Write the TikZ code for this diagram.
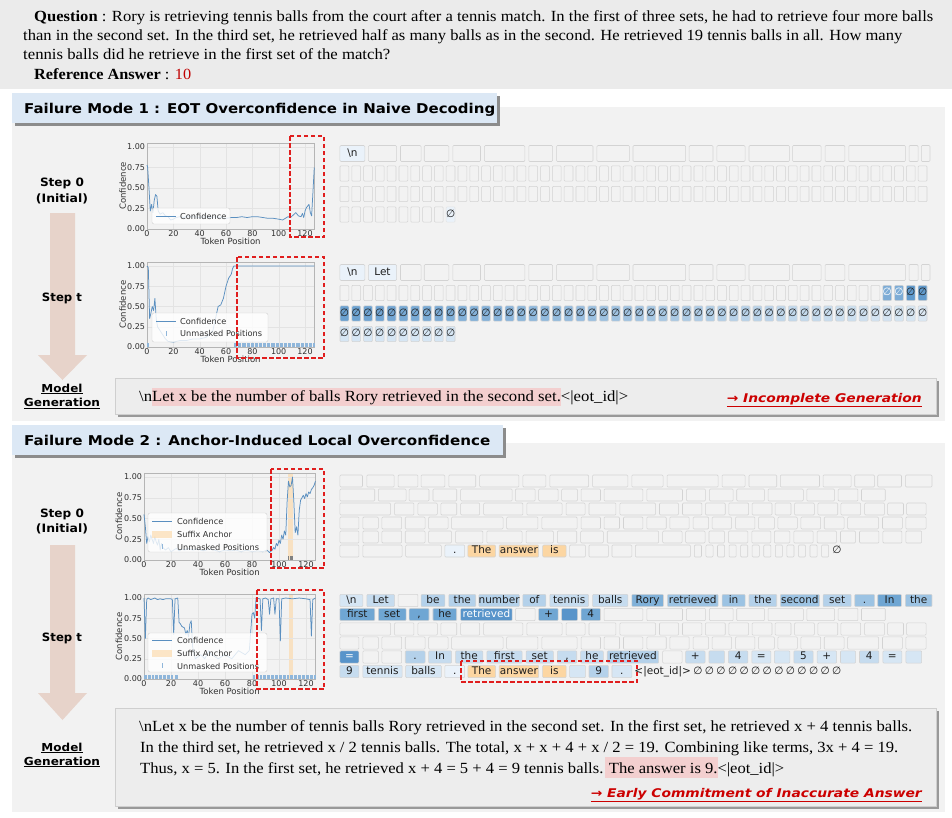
\documentclass[tikz,border=0pt]{standalone}
\usepackage{fontspec}
\usepackage{graphicx}
\setmainfont{Liberation Serif}
\newfontfamily\dv{DejaVu Sans}
\usetikzlibrary{calc}
\definecolor{qbg}{HTML}{EBEBEB}
\definecolor{pbg}{HTML}{F2F2F2}
\definecolor{hdr}{HTML}{DCE8F5}
\definecolor{arr}{HTML}{E7D3CA}
\definecolor{dashred}{HTML}{E01E1E}
\definecolor{lblred}{HTML}{CC0000}
\definecolor{ansred}{HTML}{C00000}
\definecolor{pinkh}{HTML}{F3CFCF}
\definecolor{cellb}{HTML}{D3D3D3}
\definecolor{b0}{HTML}{EAF2FA}
\definecolor{b1}{HTML}{D6E6F4}
\definecolor{b2}{HTML}{C6DCEF}
\definecolor{b3}{HTML}{B4D1EA}
\definecolor{b4}{HTML}{9CC3E3}
\definecolor{b5}{HTML}{80B1D9}
\definecolor{b6}{HTML}{6FA6D3}
\definecolor{b7}{HTML}{5894CA}
\definecolor{tb}{HTML}{4A8CC6}
\definecolor{orng}{HTML}{FCD6A2}
\definecolor{tokt}{HTML}{1E1E1E}
\definecolor{gridc}{HTML}{E3E3E3}
\definecolor{spinec}{HTML}{B5B5B5}
\definecolor{tickc}{HTML}{303030}
\definecolor{linec}{HTML}{5A8FC0}
\definecolor{legc}{HTML}{D0D0D0}
\definecolor{unmc}{HTML}{8FB6DA}
\definecolor{genbg}{HTML}{EDEDED}
\definecolor{genb}{HTML}{CFCFCF}
\newcommand\comma{,}
\newcommand\fitw[2]{\resizebox{#1}{\height}{#2}}
\newcommand\tokrow[4]{%
  \foreach \xa/\xb/\cc/\tx [count=\k] in {#3}{%
    \draw[cell,fill=\cc] ({330+\xa/2.525},{#1-#2}) rectangle ({330+\xb/2.525},{#1+#2});
    \ifx\tx\empty\else
      \node[tok] (#4-\k) at ({330+(\xa+\xb)/5.05},#1) {\tx};
    \fi
  }}
\newcommand\axesdecor{%
  \foreach \g in {0,20,40,60,80,100,120} {\draw[gridl] (\g,0) -- (\g,1.05);}
  \foreach \g in {0.25,0.5,0.75,1} {\draw[gridl] (0,\g) -- (127,\g);}
  \draw[spine] (0,0) rectangle (127,1.05);
  \foreach \g/\l in {0/0.00,0.25/0.25,0.5/0.50,0.75/0.75,1/1.00} {\node[ticklbl,anchor=east] at (-1.0,\g) {\l};}
  \foreach \g in {0,20,40,60,80,100,120} {\node[ticklbl,anchor=north] at (\g,-0.01) {\g};}
  \node[axlbl,rotate=90] at (-18.5,0.525) {Confidence};
  \node[axlbl] at (63.5,-0.147) {Token Position};
}
\tikzset{
  cell/.style={draw=cellb,line width=0.55pt,rounded corners=1pt},
  tok/.style={font=\dv\fontsize{10.5}{11}\selectfont,inner sep=0pt,text=tokt,text height=7.8pt,text depth=2.2pt},
  gridl/.style={draw=gridc,line width=0.35pt},
  spine/.style={draw=spinec,line width=0.6pt},
  ticklbl/.style={font=\dv\fontsize{8}{9}\selectfont,inner sep=0.5pt,text=tickc},
  axlbl/.style={font=\dv\fontsize{8.5}{9}\selectfont,inner sep=0pt,text=tickc},
  dl/.style={draw=linec,line width=0.75pt,line join=round},
  unm/.style={draw=unmc,line width=0.6pt},
  reddash/.style={draw=dashred,line width=1.5pt,dash pattern=on 4.5pt off 2.5pt},
  legbox/.style={fill=white,fill opacity=0.8,draw=legc,line width=0.4pt,rounded corners=2pt},
  legtxt/.style={font=\dv\fontsize{8.2}{9}\selectfont,inner sep=0pt,anchor=west,text=tickc},
  steplbl/.style={font=\dv\bfseries\fontsize{11.5}{12}\selectfont,inner sep=0pt},
  mglbl/.style={font=\dv\bfseries\fontsize{11}{12}\selectfont,inner sep=0pt},
  qtxt/.style={anchor=base west,inner sep=0pt,font=\fontsize{15.5}{18}\selectfont},
  hdrtxt/.style={anchor=base west,inner sep=0pt,font=\dv\bfseries\fontsize{13.5}{15}\selectfont},
  redlbl/.style={anchor=base east,inner sep=0pt,text=lblred,font=\dv\bfseries\itshape\fontsize{12}{14}\selectfont},
  emp/.style={font=\dv\fontsize{10.5}{11}\selectfont,inner sep=0pt,text=tokt,text height=7.8pt,text depth=2.2pt},
}
\begin{document}
\begin{tikzpicture}[x=1pt,y=-1pt]
\useasboundingbox (0,0) rectangle (952,817);
\fill[white] (0,0) rectangle (952,817);
% ---------------- question ----------------
\fill[qbg] (0,0) rectangle (952,89);
\node[qtxt] (q1) at (34,21.5) {\fitw{899pt}{\textbf{Question} : Rory is retrieving tennis balls from the court after a tennis match. In the first of three sets, he had to retrieve four more balls}};
\node[qtxt] (q2) at (23,40.5) {\fitw{879pt}{than in the second set. In the third set, he retrieved half as many balls as in the second. He retrieved 19 tennis balls in all. How many}};
\node[qtxt] (q3) at (23,59.5) {\fitw{367pt}{tennis balls did he retrieve in the first set of the match?}};
\node[qtxt] (q4) at (34,79.5) {\fitw{157pt}{\textbf{Reference Answer} : \textcolor{ansred}{10}}};
% ---------------- panels ----------------
\fill[pbg] (12,107) rectangle (945,421);
\fill[pbg] (12,443) rectangle (945,812);
\fill[black!45] (14.5,95.5) rectangle (499.5,125.5);
\fill[hdr] (12,93) rectangle (497,123);
\node[hdrtxt] (h1) at (24,113) {\fitw{471pt}{Failure Mode 1 : EOT Overconfidence in Naive Decoding}};
\fill[black!45] (14.5,427.5) rectangle (505.5,457.5);
\fill[hdr] (12,425) rectangle (503,455);
\node[hdrtxt] (h2) at (24,445) {\fitw{466pt}{Failure Mode 2 : Anchor-Induced Local Overconfidence}};
% ---------------- arrows & step labels ----------------
\fill[arr] (50,213) -- (75,213) -- (75,355) -- (87,355) -- (62.5,380) -- (38,355) -- (50,355) -- cycle;
\fill[arr] (50,545) -- (75,545) -- (75,693) -- (87,693) -- (62.5,720) -- (38,693) -- (50,693) -- cycle;
\node[steplbl] (s1a) at (62,183.5) {\fitw{44pt}{Step 0}};
\node[steplbl] (s1b) at (62,198.5) {\fitw{52pt}{(Initial)}};
\node[steplbl] (s1t) at (62,298) {\fitw{40pt}{Step t}};
\node[mglbl] (m1a) at (62,389) {\fitw{41pt}{\underline{Model}}};
\node[mglbl] (m1b) at (62,403.5) {\fitw{76pt}{\underline{Generation}}};
\node[steplbl] (s2a) at (62,514) {\fitw{44pt}{Step 0}};
\node[steplbl] (s2b) at (62,528.5) {\fitw{52pt}{(Initial)}};
\node[steplbl] (s2t) at (62,638) {\fitw{40pt}{Step t}};
\node[mglbl] (m2a) at (62,748) {\fitw{41pt}{\underline{Model}}};
\node[mglbl] (m2b) at (62,762) {\fitw{76pt}{\underline{Generation}}};
% ---------------- plot 1 : FM1 step 0 ----------------
\begin{scope}[shift={(147,229)},x=1.317pt,y=82pt]
\axesdecor
\draw[dl] plot coordinates {(0,0.78) (0.5,0.75) (1.5,0.5) (2.5,0.22) (3.5,0.3) (4.5,0.2) (5.5,0.35) (6.5,0.42) (7.5,0.4) (8.5,0.22) (10,0.18) (12,0.2) (14,0.16) (16,0.15) (18,0.11) (20,0.12) (22,0.14) (25,0.15) (28,0.14) (30,0.16) (33,0.15) (36,0.15) (40,0.14) (44,0.15) (48,0.14) (52,0.15) (56,0.14) (60,0.13) (64,0.14) (68,0.14) (72,0.15) (76,0.14) (80,0.15) (84,0.15) (88,0.14) (92,0.13) (96,0.13) (100,0.12) (103,0.11) (105,0.13) (107,0.15) (109,0.14) (111,0.17) (113,0.2) (115,0.16) (117,0.15) (118,0.19) (119,0.14) (120,0.22) (121,0.26) (122,0.28) (123,0.3) (124,0.2) (125,0.16) (126,0.45) (127,0.75)};
\end{scope}
\draw[legbox] (152,208) rectangle (230,224);
\draw[dl] (156,216) -- (176,216);
\node[legtxt] (l1a) at (180,216) {Confidence};
\draw[reddash] (290,136) rectangle (324,237);
% ---------------- plot 2 : FM1 step t ----------------
\begin{scope}[shift={(147,347)},x=1.317pt,y=81pt]
\axesdecor
\foreach \u in {0,1,66,67,...,127} {\draw[unm] (\u,0) -- (\u,0.045);}
\draw[dl] plot coordinates {(0,1.0) (1,0.98) (2,0.35) (3,0.42) (4,0.5) (5,0.45) (6,0.6) (7,0.35) (8,0.25) (10,0.2) (12,0.15) (14,0.1) (16,0.07) (20,0.06) (25,0.08) (30,0.08) (35,0.1) (40,0.1) (45,0.12) (50,0.2) (52,0.35) (54,0.5) (56,0.52) (58,0.6) (60,0.75) (62,0.85) (64,0.9) (65,0.97) (66,1.0) (127,1.0)};
\end{scope}
\draw[legbox] (152,313) rectangle (268,342);
\draw[dl] (156,321) -- (176,321);
\draw[unm] (166,331) -- (166,336);
\node[legtxt] (l2a) at (180,321) {Confidence};
\node[legtxt] (l2b) at (180,333.5) {Unmasked Positions};
\draw[reddash] (237,257) rectangle (324,358);
% ---------------- plot 3 : FM2 step 0 ----------------
\begin{scope}[shift={(144,560)},x=1.35pt,y=83pt]
\fill[orng,opacity=0.6] (107,0) rectangle (110.5,1.05);
\axesdecor
\foreach \u in {107,108,109,110} {\draw[draw=gray,line width=0.6pt] (\u,0) -- (\u,0.045);}
\draw[dl] plot coordinates {(0,0.55) (1,0.4) (2,0.2) (3,0.28) (4,0.22) (5,0.3) (6,0.25) (7,0.2) (8,0.28) (9,0.22) (10,0.18) (11,0.25) (12,0.12) (13,0.2) (14,0.15) (16,0.12) (18,0.15) (20,0.1) (22,0.12) (24,0.14) (26,0.11) (28,0.13) (30,0.12) (33,0.14) (36,0.12) (40,0.13) (44,0.11) (48,0.13) (52,0.12) (56,0.1) (60,0.12) (64,0.11) (68,0.12) (72,0.1) (76,0.12) (80,0.1) (84,0.11) (88,0.1) (91,0.12) (93,0.09) (95,0.12) (96,0.15) (97,0.13) (98,0.2) (99,0.17) (100,0.24) (101,0.2) (102,0.3) (103,0.25) (104,0.35) (105,0.3) (106,0.7) (107,0.95) (108,0.88) (109,0.9) (110,1.0) (111,0.7) (112,0.33) (113,0.4) (114,0.3) (115,0.6) (116,0.72) (117,0.75) (118,0.78) (119,0.74) (120,0.8) (121,0.76) (122,0.82) (123,0.8) (124,0.85) (125,0.87) (126,0.9) (127,0.95)};
\end{scope}
\draw[legbox] (148,513) rectangle (267,552);
\draw[dl] (152,521) -- (172,521);
\fill[orng,opacity=0.6] (152,530.5) rectangle (172,537.5);
\draw[unm] (162,544) -- (162,549);
\node[legtxt] (l3a) at (177,521) {Confidence};
\node[legtxt] (l3b) at (177,534) {Suffix Anchor};
\node[legtxt] (l3c) at (177,547) {Unmasked Positions};
\draw[reddash] (271,469) rectangle (324,568);
% ---------------- plot 4 : FM2 step t ----------------
\begin{scope}[shift={(144,679)},x=1.35pt,y=81pt]
\fill[orng,opacity=0.6] (107.4,0) rectangle (110.5,1.05);
\axesdecor
\foreach \u in {0,1,...,21,23,24,25,81,82,...,127} {\draw[unm] (\u,0) -- (\u,0.045);}
\draw[dl] plot coordinates {(0,1.0) (1,0.5) (2,0.98) (3,1.0) (5,0.98) (8,1.0) (10,0.98) (12,0.99) (14,0.98) (16,0.99) (20,0.99) (21,0.98) (22,0.55) (23,0.99) (25,1.0) (26,0.7) (27,0.68) (28,0.65) (30,0.63) (31,0.55) (32,0.6) (33,0.52) (34,0.68) (35,0.72) (36,0.4) (38,0.25) (42,0.3) (45,0.25) (48,0.35) (50,0.3) (55,0.25) (60,0.3) (65,0.25) (70,0.35) (75,0.3) (78,0.35) (80,0.8) (81,0.82) (82,0.75) (83,1.0) (86,0.99) (87,0.6) (88,0.99) (90,1.0) (92,0.98) (93,0.8) (94,0.99) (96,1.0) (97,0.8) (98,0.99) (100,0.99) (101,0.47) (102,0.99) (105,1.0) (110,0.99) (115,1.0) (120,0.99) (123,0.98) (124,0.53) (125,0.98) (127,1.0)};
\end{scope}
\draw[legbox] (148,633) rectangle (267,672);
\draw[dl] (152,640) -- (172,640);
\fill[orng,opacity=0.6] (152,649.5) rectangle (172,656.5);
\draw[unm] (162,663) -- (162,668);
\node[legtxt] (l4a) at (177,640) {Confidence};
\node[legtxt] (l4b) at (177,653) {Suffix Anchor};
\node[legtxt] (l4c) at (177,666) {Unmasked Positions};
\draw[reddash] (257,590) rectangle (324,689);
% ---------------- FM1 step 0 grid ----------------
\tokrow{153.5}{8}{25/88/b0/{\textbackslash n}, 97/168/pbg/{}, 178/230/pbg/{}, 238/300/pbg/{}, 310/380/pbg/{}, 390/492/pbg/{}, 502/562/pbg/{}, 572/664/pbg/{}, 674/756/pbg/{}, 765/898/pbg/{}, 907/967/pbg/{}, 977/1048/pbg/{}, 1058/1160/pbg/{}, 1168/1240/pbg/{}, 1250/1300/pbg/{}, 1310/1453/pbg/{}, 1462/1485/pbg/{}, 1493/1515/pbg/{}}{ga}
\foreach \yy in {173.5,194} {\foreach \i in {0,...,49} {\draw[cell,fill=pbg] ({340+\i*11.8},{\yy-7.7}) rectangle ({348.8+\i*11.8},{\yy+7.7});}}
\foreach \i in {0,...,8} {\draw[cell,fill=pbg] ({340+\i*11.8},206.8) rectangle ({348.8+\i*11.8},222.2);}
\draw[cell,draw=cellb!60,fill=b0] (446.2,206.8) rectangle (455,222.2);
\node[emp] (ge) at (450.6,214.5) {∅};
% ---------------- FM1 step t grid ----------------
\tokrow{272.5}{8}{25/88/b0/{\textbackslash n}, 97/168/b0/Let, 178/230/pbg/{}, 238/300/pbg/{}, 310/380/pbg/{}, 390/492/pbg/{}, 502/562/pbg/{}, 572/664/pbg/{}, 674/756/pbg/{}, 765/898/pbg/{}, 907/967/pbg/{}, 977/1048/pbg/{}, 1058/1160/pbg/{}, 1168/1240/pbg/{}, 1250/1300/pbg/{}, 1310/1453/pbg/{}, 1462/1485/pbg/{}, 1493/1515/pbg/{}}{gb}
\foreach \i in {0,...,45} {\draw[cell,fill=pbg] ({340+\i*11.8},285.3) rectangle ({348.8+\i*11.8},300.7);}
\foreach \i in {46,47} {\draw[cell,fill=tb!72!white] ({340+\i*11.8},285.3) rectangle ({348.8+\i*11.8},300.7); \node[emp,text=white] at ({344.4+\i*11.8},293) {∅};}
\foreach \i in {48,49} {\draw[cell,fill=tb!88!white] ({340+\i*11.8},285.3) rectangle ({348.8+\i*11.8},300.7); \node[emp] at ({344.4+\i*11.8},293) {∅};}
\foreach \i in {0,...,49} {\pgfmathtruncatemacro\pc{82-1.25*\i}\draw[cell,fill=tb!\pc!white] ({340+\i*11.8},305.8) rectangle ({348.8+\i*11.8},321.2); \node[emp] at ({344.4+\i*11.8},313.5) {∅};}
\foreach \i in {0,...,9} {\draw[cell,fill=b1] ({340+\i*11.8},326.3) rectangle ({348.8+\i*11.8},341.7); \node[emp] at ({344.4+\i*11.8},334) {∅};}
% ---------------- FM2 step 0 grid ----------------
\tokrow{481}{6}{25/82/pbg/{}, 93/162/pbg/{}, 172/222/pbg/{}, 230/290/pbg/{}, 300/368/pbg/{}, 378/477/pbg/{}, 487/545/pbg/{}, 555/653/pbg/{}, 663/752/pbg/{}, 762/841/pbg/{}, 851/980/pbg/{}, 990/1048/pbg/{}, 1058/1128/pbg/{}, 1137/1236/pbg/{}, 1245/1316/pbg/{}, 1325/1375/pbg/{}, 1383/1443/pbg/{}, 1453/1520/pbg/{}}{ca}
\tokrow{495}{6}{25/113/pbg/{}, 122/192/pbg/{}, 200/250/pbg/{}, 260/320/pbg/{}, 330/460/pbg/{}, 468/518/pbg/{}, 527/576/pbg/{}, 585/625/pbg/{}, 634/683/pbg/{}, 692/790/pbg/{}, 800/890/pbg/{}, 900/948/pbg/{}, 958/1018/pbg/{}, 1027/1097/pbg/{}, 1106/1195/pbg/{}, 1204/1274/pbg/{}, 1283/1333/pbg/{}, 1342/1402/pbg/{}}{cb}
\tokrow{509}{6}{25/153/pbg/{}, 163/212/pbg/{}, 222/271/pbg/{}, 280/320/pbg/{}, 330/378/pbg/{}, 388/487/pbg/{}, 497/586/pbg/{}, 596/644/pbg/{}, 654/722/pbg/{}, 732/822/pbg/{}, 832/880/pbg/{}, 890/939/pbg/{}, 948/998/pbg/{}, 1007/1057/pbg/{}, 1066/1116/pbg/{}, 1124/1164/pbg/{}, 1173/1223/pbg/{}, 1232/1282/pbg/{}, 1290/1340/pbg/{}, 1350/1400/pbg/{}, 1408/1448/pbg/{}, 1456/1505/pbg/{}}{cc}
\tokrow{523}{6}{25/73/pbg/{}, 83/122/pbg/{}, 131/181/pbg/{}, 190/240/pbg/{}, 249/298/pbg/{}, 307/437/pbg/{}, 446/525/pbg/{}, 535/624/pbg/{}, 634/683/pbg/{}, 692/731/pbg/{}, 741/790/pbg/{}, 800/849/pbg/{}, 858/907/pbg/{}, 917/956/pbg/{}, 965/1014/pbg/{}, 1024/1073/pbg/{}, 1082/1122/pbg/{}, 1131/1180/pbg/{}, 1189/1239/pbg/{}, 1248/1298/pbg/{}, 1307/1385/pbg/{}, 1395/1445/pbg/{}, 1454/1505/pbg/{}}{cd}
\tokrow{537}{6}{25/73/pbg/{}, 83/122/pbg/{}, 131/181/pbg/{}, 190/240/pbg/{}, 249/307/pbg/{}, 317/386/pbg/{}, 396/485/pbg/{}, 495/564/pbg/{}, 574/623/pbg/{}, 633/690/pbg/{}, 700/830/pbg/{}, 840/889/pbg/{}, 898/947/pbg/{}, 957/996/pbg/{}, 1006/1055/pbg/{}, 1065/1113/pbg/{}, 1122/1161/pbg/{}, 1171/1220/pbg/{}, 1230/1279/pbg/{}, 1289/1327/pbg/{}, 1337/1386/pbg/{}, 1396/1444/pbg/{}, 1454/1494/pbg/{}}{ce}
\tokrow{551}{6}{25/73/pbg/{}, 83/182/pbg/{}, 191/281/pbg/{}, 290/340/b0/., 348/418/orng/The, 427/527/orng/answer, 537/596/orng/is, 605/645/pbg/{}, 654/703/pbg/{}, 712/762/pbg/{}, 771/910/pbg/{}}{cf}
\foreach \i in {0,...,11} {\draw[cell,fill=pbg] ({330+(920+29.2*\i)/2.525},545) rectangle ({330+(938+29.2*\i)/2.525},557);}
\node[emp] (ce) at (836.9,551) {∅};
% ---------------- FM2 step t grid ----------------
\tokrow{600.5}{6.2}{25/83/b1/{\textbackslash n}, 93/163/b2/Let, 172/222/pbg/{}, 230/290/b3/be, 300/368/b3/the, 376/478/b3/number, 487/545/b3/of, 555/653/b2/tennis, 663/752/b2/balls, 762/842/b5/Rory, 852/980/b4/retrieved, 990/1048/b4/in, 1058/1128/b3/the, 1137/1236/b4/second, 1245/1316/b3/set, 1325/1375/b4/., 1383/1443/b6/In, 1453/1520/b4/the}{da}
\tokrow{614.5}{6.2}{25/113/b6/first, 122/192/b6/set, 200/250/b6/\comma, 260/320/b6/he, 330/460/b7/{\color{white}retrieved}, 468/518/pbg/{}, 527/576/b6/+, 585/625/b7/{}, 634/683/b6/4, 692/790/pbg/{}, 800/890/pbg/{}, 900/948/pbg/{}, 958/1018/pbg/{}, 1027/1097/pbg/{}, 1106/1195/pbg/{}, 1204/1274/pbg/{}, 1283/1333/pbg/{}, 1342/1402/pbg/{}}{db}
\tokrow{629}{6.2}{25/153/pbg/{}, 163/212/pbg/{}, 222/271/pbg/{}, 280/320/pbg/{}, 330/378/pbg/{}, 388/487/pbg/{}, 497/586/pbg/{}, 596/644/pbg/{}, 654/722/pbg/{}, 732/822/pbg/{}, 832/880/pbg/{}, 890/939/pbg/{}, 948/998/pbg/{}, 1007/1057/pbg/{}, 1066/1116/pbg/{}, 1124/1164/pbg/{}, 1173/1223/pbg/{}, 1232/1282/pbg/{}, 1290/1340/pbg/{}, 1350/1400/pbg/{}, 1408/1448/pbg/{}, 1456/1505/pbg/{}}{dc}
\tokrow{643}{6.2}{25/73/pbg/{}, 83/122/pbg/{}, 131/181/pbg/{}, 190/240/pbg/{}, 249/298/pbg/{}, 307/437/pbg/{}, 446/525/pbg/{}, 535/624/pbg/{}, 634/683/pbg/{}, 692/731/pbg/{}, 741/790/pbg/{}, 800/849/pbg/{}, 858/907/pbg/{}, 917/956/pbg/{}, 965/1014/pbg/{}, 1024/1073/pbg/{}, 1082/1122/pbg/{}, 1131/1180/pbg/{}, 1189/1239/pbg/{}, 1248/1298/pbg/{}, 1307/1385/pbg/{}, 1395/1445/pbg/{}, 1454/1505/pbg/{}}{dd}
\tokrow{657}{6.2}{25/73/b7/{\color{white}=}, 83/122/pbg/{}, 131/181/pbg/{}, 190/240/b3/., 249/307/b2/In, 317/386/b2/the, 396/485/b2/first, 495/564/b2/set, 574/623/b2/\comma, 633/690/b2/he, 700/830/b3/retrieved, 840/889/pbg/{}, 898/947/b2/+, 957/996/b2/{}, 1006/1055/b2/4, 1065/1113/b1/=, 1122/1161/b1/{}, 1171/1220/b2/5, 1230/1279/b1/+, 1289/1327/b1/{}, 1337/1386/b2/4, 1396/1444/b1/=, 1454/1494/b1/{}}{de}
\tokrow{671.5}{6.2}{25/73/b2/9, 83/182/b1/tennis, 191/281/b1/balls, 290/340/b0/., 348/418/orng/The, 427/527/orng/answer, 537/596/orng/is, 605/645/b1/{}, 654/703/b3/9, 712/762/b1/.}{df}
\node[emp] (eot) at (662.7,671.5) {<|eot\_id|>};
\foreach \i in {0,...,12} {\node[emp] at ({330+(929+29.2*\i)/2.525},671.5) {∅};}
\draw[reddash] (461,661) rectangle (637,682);
% ---------------- generation FM1 ----------------
\fill[black!40] (118,381) rectangle (939,417);
\fill[genbg] (115,378) rectangle (936,414);
\draw[genb,line width=0.5pt] (115,378) rectangle (936,414);
\fill[pinkh] (152,387.5) rectangle (561,405.5);
\node[qtxt] (g1) at (139,401.5) {\fitw{489pt}{\textbackslash nLet x be the number of balls Rory retrieved in the second set.<|eot\_id|>}};
\node[redlbl] (r1) at (922,402) {\fitw{195pt}{\underline{→ Incomplete Generation}}};
% ---------------- generation FM2 ----------------
\fill[black!40] (118,711) rectangle (939,809);
\fill[genbg] (115,708) rectangle (936,806);
\draw[genb,line width=0.5pt] (115,708) rectangle (936,806);
\fill[pinkh] (605,757) rectangle (718,778);
\node[qtxt] (g2a) at (139,731) {\fitw{773pt}{\textbackslash nLet x be the number of tennis balls Rory retrieved in the second set. In the first set, he retrieved x + 4 tennis balls.}};
\node[qtxt] (g2b) at (140,752) {\fitw{758pt}{In the third set, he retrieved x / 2 tennis balls. The total, x + x + 4 + x / 2 = 19. Combining like terms, 3x + 4 = 19.}};
\node[qtxt] (g2c) at (140,773) {\fitw{644pt}{Thus, x = 5. In the first set, he retrieved x + 4 = 5 + 4 = 9 tennis balls. The answer is 9.<|eot\_id|>}};
\node[redlbl] (r2) at (922,797) {\fitw{331pt}{\underline{→ Early Commitment of Inaccurate Answer}}};
\end{tikzpicture}
\end{document}
